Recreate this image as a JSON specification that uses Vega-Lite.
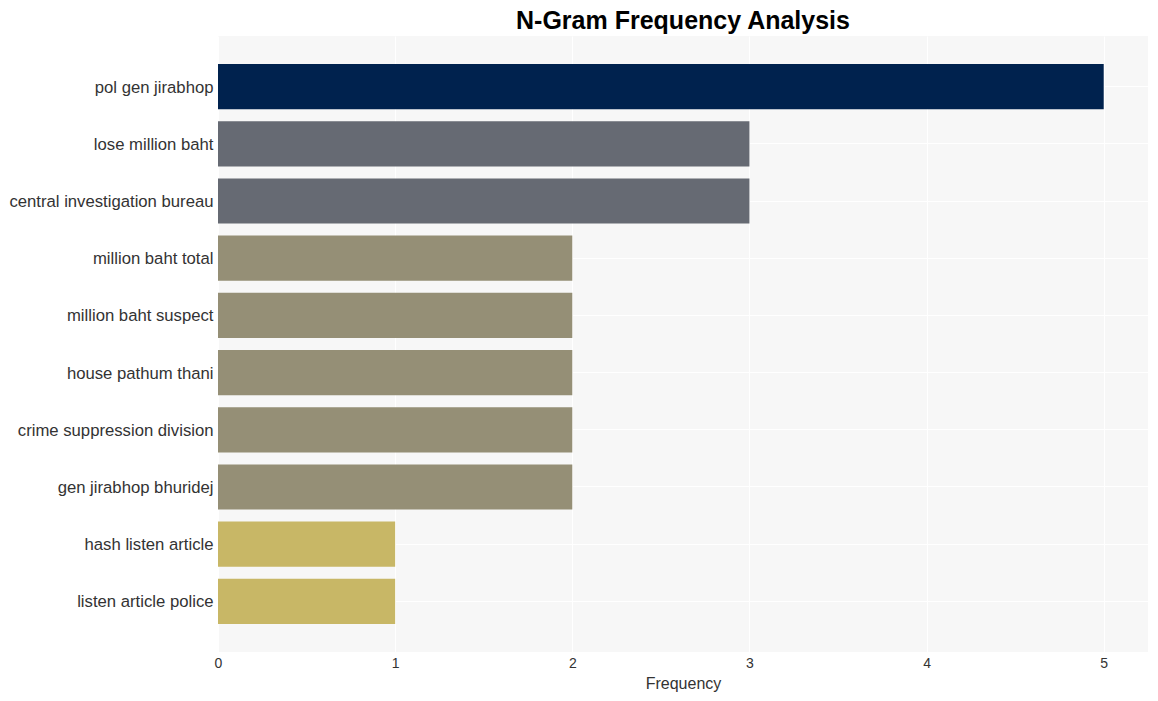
{
  "$schema": "https://vega.github.io/schema/vega-lite/v6.json",
  "width": 930,
  "height": 616,
  "autosize": {"type": "none"},
  "padding": {"left": 218, "top": 36, "right": 10, "bottom": 49},
  "background": "white",
  "title": {
    "text": "N-Gram Frequency Analysis",
    "anchor": "middle",
    "font": "Liberation Sans",
    "fontSize": 25,
    "fontWeight": "bold",
    "color": "#000000",
    "offset": 2
  },
  "config": {
    "view": {"fill": "#f7f7f7", "stroke": null},
    "font": "Liberation Sans"
  },
  "data": {
    "values": [
      {"ngram": "pol gen jirabhop", "freq": 5},
      {"ngram": "lose million baht", "freq": 3},
      {"ngram": "central investigation bureau", "freq": 3},
      {"ngram": "million baht total", "freq": 2},
      {"ngram": "million baht suspect", "freq": 2},
      {"ngram": "house pathum thani", "freq": 2},
      {"ngram": "crime suppression division", "freq": 2},
      {"ngram": "gen jirabhop bhuridej", "freq": 2},
      {"ngram": "hash listen article", "freq": 1},
      {"ngram": "listen article police", "freq": 1}
    ]
  },
  "mark": {"type": "bar"},
  "encoding": {
    "y": {
      "field": "ngram",
      "type": "nominal",
      "sort": null,
      "scale": {"paddingInner": 0.21, "paddingOuter": 0.49},
      "axis": {
        "title": null,
        "domain": false,
        "ticks": false,
        "labelFontSize": 16.7,
        "labelColor": "#333333",
        "labelPadding": 5,
        "labelOffset": 1,
        "grid": true,
        "bandPosition": 0.5,
        "gridColor": "#ffffff",
        "gridWidth": 1,
        "labelLimit": 300
      }
    },
    "x": {
      "field": "freq",
      "type": "quantitative",
      "scale": {"domain": [0, 5.25], "nice": false},
      "axis": {
        "title": "Frequency",
        "titleFontSize": 16,
        "titleFontWeight": "normal",
        "titleColor": "#333333",
        "titlePadding": 5,
        "values": [0, 1, 2, 3, 4, 5],
        "format": "d",
        "domain": false,
        "ticks": false,
        "labelFlush": false,
        "labelFontSize": 14,
        "labelColor": "#333333",
        "labelPadding": 4,
        "grid": true,
        "gridColor": "#ffffff",
        "gridWidth": 1
      }
    },
    "color": {
      "field": "freq",
      "type": "ordinal",
      "scale": {"domain": [1, 2, 3, 5], "range": ["#c8b766", "#958f76", "#666a73", "#00224e"]},
      "legend": null
    }
  }
}
